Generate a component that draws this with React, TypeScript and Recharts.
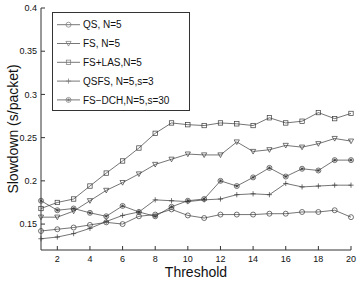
import React from 'react';
import { LineChart, Line, XAxis, YAxis, Legend } from 'recharts';

const thresholds = [1, 2, 3, 4, 5, 6, 7, 8, 9, 10, 11, 12, 13, 14, 15, 16, 17, 18, 19, 20];
const qs = [0.142, 0.144, 0.146, 0.149, 0.152, 0.150, 0.159, 0.161, 0.167, 0.160, 0.157, 0.161, 0.161, 0.161, 0.162, 0.162, 0.164, 0.164, 0.166, 0.158];
const fs = [0.158, 0.158, 0.165, 0.177, 0.189, 0.198, 0.208, 0.219, 0.225, 0.231, 0.230, 0.230, 0.245, 0.234, 0.236, 0.241, 0.239, 0.243, 0.249, 0.246];
const fsLas = [0.168, 0.175, 0.179, 0.194, 0.209, 0.223, 0.238, 0.255, 0.267, 0.265, 0.264, 0.267, 0.266, 0.264, 0.273, 0.267, 0.269, 0.279, 0.272, 0.278];
const qsfs = [0.133, 0.135, 0.139, 0.145, 0.153, 0.160, 0.164, 0.178, 0.177, 0.176, 0.178, 0.179, 0.184, 0.185, 0.184, 0.197, 0.193, 0.194, 0.195, 0.195];
const fsDch = [0.177, 0.166, 0.168, 0.163, 0.159, 0.171, 0.164, 0.159, 0.170, 0.177, 0.179, 0.200, 0.194, 0.204, 0.215, 0.205, 0.214, 0.212, 0.224, 0.224];

const xTicks = [2, 4, 6, 8, 10, 12, 14, 16, 18, 20];
const yTicks = [0.15, 0.2, 0.25, 0.3, 0.35, 0.4];

const seriesNames = ['QS, N=5', 'FS, N=5', 'FS+LAS,N=5', 'QSFS, N=5,s=3', 'FS\u2212DCH,N=5,s=30'];
const seriesKeys = ['qs', 'fs', 'fsLas', 'qsfs', 'fsDch'];
const markerKinds = ['circle', 'triangle', 'square', 'plus', 'dotcircle'];

const data = thresholds.map((t, i) => ({
  t,
  qs: qs[i],
  fs: fs[i],
  fsLas: fsLas[i],
  qsfs: qsfs[i],
  fsDch: fsDch[i],
}));

const FONT = '"Liberation Sans", Arial, Helvetica, sans-serif';
const LINE = '#3a3a3a';
const AXIS = '#333';

function Marker({ kind, cx, cy, color }: { kind: string; cx: number; cy: number; color: string }) {
  const sw = 0.7;
  if (kind === 'circle') {
    return <circle cx={cx} cy={cy} r={2.5} fill="none" stroke={color} strokeWidth={sw} />;
  }
  if (kind === 'triangle') {
    const s = 2.6;
    return (
      <polygon
        points={`${cx - s},${cy - s * 0.8} ${cx + s},${cy - s * 0.8} ${cx},${cy + s}`}
        fill="none"
        stroke={color}
        strokeWidth={sw}
      />
    );
  }
  if (kind === 'square') {
    return <rect x={cx - 2.2} y={cy - 2.2} width={4.4} height={4.4} fill="none" stroke={color} strokeWidth={sw} />;
  }
  if (kind === 'plus') {
    return (
      <g stroke={color} strokeWidth={sw}>
        <line x1={cx - 2.6} y1={cy} x2={cx + 2.6} y2={cy} />
        <line x1={cx} y1={cy - 2.6} x2={cx} y2={cy + 2.6} />
      </g>
    );
  }
  return (
    <g stroke={color} strokeWidth={sw}>
      <circle cx={cx} cy={cy} r={2.5} fill="none" />
      <line x1={cx - 1.6} y1={cy} x2={cx + 1.6} y2={cy} />
      <line x1={cx} y1={cy - 1.6} x2={cx} y2={cy + 1.6} />
      <line x1={cx - 1.2} y1={cy - 1.2} x2={cx + 1.2} y2={cy + 1.2} />
      <line x1={cx - 1.2} y1={cy + 1.2} x2={cx + 1.2} y2={cy - 1.2} />
    </g>
  );
}

function makeDot(kind: string) {
  return (p: any) => (
    <g key={`${kind}-${p.index}`}>
      <Marker kind={kind} cx={p.cx} cy={p.cy} color={LINE} />
    </g>
  );
}

function LegendBox() {
  const col = '#777';
  return (
    <svg width={138} height={99} style={{ display: 'block' }}>
      <rect x={0.5} y={0.5} width={137} height={98} fill="#fff" stroke={AXIS} strokeWidth={1} />
      {seriesNames.map((name, i) => {
        const y = 12.7 + i * 18.8;
        return (
          <g key={name}>
            <line x1={5} y1={y} x2={28} y2={y} stroke={col} strokeWidth={1} />
            <Marker kind={markerKinds[i]} cx={16.5} cy={y} color={col} />
            <text x={31} y={y + 3.6} fontSize={10} fontFamily={FONT} fill="#111">
              {name}
            </text>
          </g>
        );
      })}
    </svg>
  );
}

export default function App() {
  return (
    <div style={{ position: 'absolute', left: 0, top: 0, width: 360, height: 282, background: '#fff' }}>
      <LineChart width={360} height={282} data={data} margin={{ top: 8, right: 9, bottom: 0, left: 0 }}>
        <XAxis
          dataKey="t"
          type="number"
          domain={[1, 20]}
          ticks={xTicks}
          height={32}
          tickSize={-4}
          tickMargin={10}
          stroke={AXIS}
          tick={{ fill: '#111', fontSize: 9, fontFamily: FONT }}
          label={{ value: 'Threshold', position: 'insideBottom', offset: 5, style: { fill: '#111', fontSize: 14, fontFamily: FONT, fontWeight: 400 } }}
        />
        <XAxis xAxisId="top" orientation="top" dataKey="t" type="number" domain={[1, 20]} ticks={xTicks} height={0} tickSize={-4} tick={false} stroke={AXIS} />
        <YAxis
          type="number"
          domain={[0.12, 0.4]}
          ticks={yTicks}
          width={41}
          tickSize={-4}
          tickMargin={8}
          stroke={AXIS}
          allowDataOverflow
          tick={{ fill: '#111', fontSize: 9, fontFamily: FONT }}
          label={{ value: 'Slowdown (s/packet)', angle: -90, position: 'insideLeft', offset: 0, dx: 13, style: { fill: '#111', fontSize: 14, fontFamily: FONT, textAnchor: 'middle', fontWeight: 400 } }}
        />
        <YAxis yAxisId="right" orientation="right" type="number" domain={[0.12, 0.4]} ticks={yTicks} width={0} tickSize={-4} tick={false} stroke={AXIS} />
        <Legend
          verticalAlign="middle"
          align="center"
          layout="horizontal"
          wrapperStyle={{ position: 'absolute', left: 52, top: 12, width: 138, height: 99 }}
          content={() => <LegendBox />}
        />
        {seriesKeys.map((k, i) => (
          <Line
            key={k}
            dataKey={k}
            name={seriesNames[i]}
            stroke={LINE}
            strokeWidth={0.7}
            dot={makeDot(markerKinds[i])}
            activeDot={false}
            isAnimationActive={false}
          />
        ))}
      </LineChart>
    </div>
  );
}
